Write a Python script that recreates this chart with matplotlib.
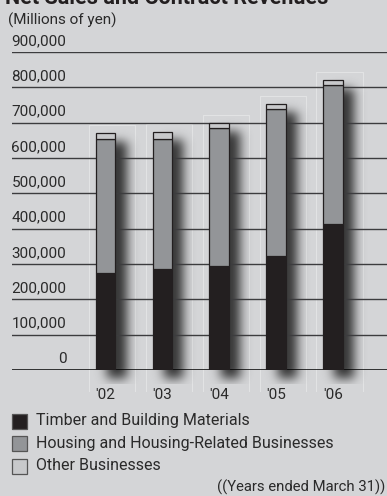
import matplotlib.pyplot as plt
import numpy as np

# Net sales by segment, millions of yen
years = ["'02", "'03", "'04", "'05", "'06"]
timber = [274000, 286000, 295000, 323000, 414000]
housing = [379000, 367000, 391000, 415000, 393000]
other = [18000, 21000, 13000, 15000, 13000]

seg_labels = ["Timber and Building Materials",
              "Housing and Housing-Related Businesses",
              "Other Businesses"]
yticks = [0, 100000, 200000, 300000, 400000, 500000, 600000, 700000, 800000, 900000]

BG = "#d4d5d7"
INK = "#231f20"
TXT = "#2a2a2a"
colors = ["#231f20", "#939598", "#c8c9cb"]
FONT = "Roboto"

W, H = 387, 496
fig = plt.figure(figsize=(W / 100, H / 100), dpi=100)
fig.patch.set_facecolor(BG)

# axes in pixel terms: x 12..387, y 52..370 (top..bottom)
ax = fig.add_axes([12 / W, (H - 370) / H, 375 / W, 318 / H])
ax.set_facecolor(BG)
x0, x1 = -1.64, 4.95
ax.axis("off")

x = np.arange(len(years))
bw = 0.34
totals = np.array(timber) + np.array(housing) + np.array(other)

# horizontal rules with labels sitting above them
for v in yticks:
    lw = 1.8 if v == 0 else 1.0
    c = "#000000" if v == 0 else "#3c3c3e"
    ax.axhline(v, color=c, lw=lw, zorder=1)
    ax.annotate(f"{v:,}", xy=(0.145, v), xycoords=("axes fraction", "data"),
                xytext=(0, 3), textcoords="offset points",
                ha="right", va="bottom", fontsize=11, color=TXT,
                family=FONT, annotation_clip=False)

# faint frames behind each bar
for xi, t in zip(x, totals):
    left, right = xi - 0.29, xi + 0.52
    top = t + 22000
    ax.plot([left, left, right, right], [-60000, top, top, -60000],
            color="#e2e3e4", lw=0.8, zorder=0.5, clip_on=False)

# soft drop shadow, blurred mask in pixel space
ny, nx = 360, 375
ylo = -40000
ys = np.linspace(900000, ylo, ny)
xs = np.linspace(x0, x1, nx)
mask = np.zeros((ny, nx))
dx = 0.2
dy = 25000
for xi, t in zip(x, totals):
    inx = (xs >= xi - bw / 2 + dx) & (xs <= xi + bw / 2 + dx)
    iny = (ys <= t - dy) & (ys >= -dy)
    mask[np.ix_(iny, inx)] = 1.0

sig = 5.5
k = np.arange(-18, 19)
kern = np.exp(-0.5 * (k / sig) ** 2)
kern /= kern.sum()
blur = np.apply_along_axis(lambda r: np.convolve(r, kern, mode="same"), 1, mask)
blur = np.apply_along_axis(lambda c: np.convolve(c, kern, mode="same"), 0, blur)
shade = np.zeros((ny, nx, 4))
shade[..., :3] = 0.15
shade[..., 3] = np.clip(blur, 0, 1) * 0.95
ax.imshow(shade, extent=(x0, x1, ylo, 900000), aspect="auto",
          zorder=0.8, interpolation="bilinear", clip_on=False)
ax.set_xlim(x0, x1)
ax.set_ylim(0, 900000)

# stacked bars
bottom = np.zeros(len(years))
for vals, col in zip([timber, housing, other], colors):
    ax.bar(x, vals, bw, bottom=bottom, color=col, edgecolor=INK,
           linewidth=0.9, zorder=4)
    bottom += np.array(vals)

for xi, lab in zip(x, years):
    ax.text(xi, -52000, lab, ha="center", va="top", fontsize=11,
            color=TXT, family=FONT, clip_on=False)

# title (runs off the top edge), unit note
fig.text(5 / W, 1 - 3.5 / H, "Net Sales and Contract Revenues", ha="left",
         va="baseline", fontsize=15.5, fontweight="bold", color=INK, family=FONT)
fig.text(8 / W, 1 - 25 / H, "(Millions of yen)", ha="left", va="baseline",
         fontsize=11, color=TXT, family=FONT)

# legend
for i, (lab, col) in enumerate(zip(seg_labels, colors)):
    yc = 421 + i * 22.5
    fig.patches.append(plt.Rectangle((12 / W, 1 - (yc + 7.5) / H), 15 / W, 15 / H,
                                     transform=fig.transFigure, facecolor=col,
                                     edgecolor="#555555", linewidth=0.9))
    fig.text(36 / W, 1 - yc / H, lab, ha="left", va="center", fontsize=11.5,
             color=TXT, family=FONT)

fig.text(385 / W, 1 - 487 / H, "((Years ended March 31))", ha="right",
         va="center", fontsize=10.7, color=TXT, family=FONT)

fig.savefig("out.png", dpi=100, facecolor=BG)
